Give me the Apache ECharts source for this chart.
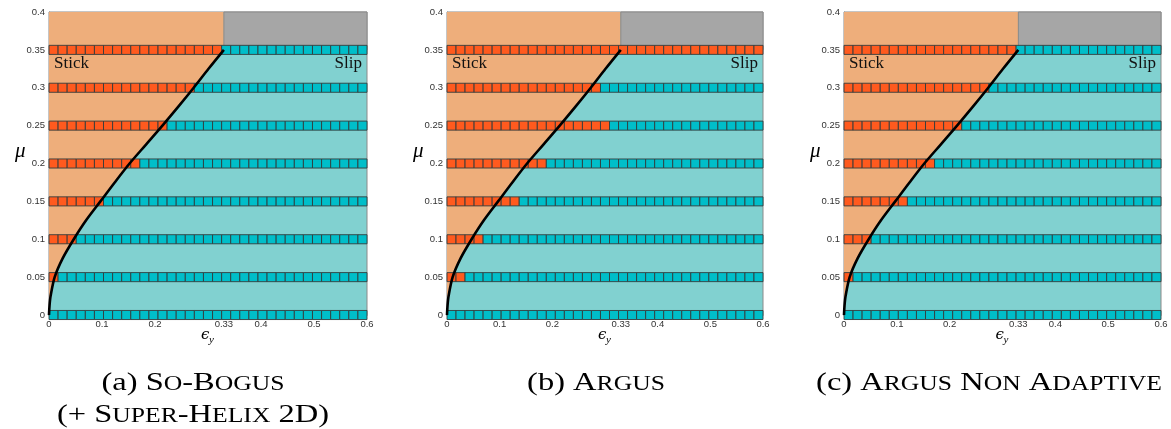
<!DOCTYPE html>
<html><head><meta charset="utf-8">
<script src="https://cdn.jsdelivr.net/npm/echarts@6/dist/echarts.min.js"></script>
<style>html,body{margin:0;padding:0;background:#fff}#c{width:1171px;height:429px}</style>
</head><body><div id="c"></div>
<script>
// ---- data ----
const rowMu = [0, 0.05, 0.1, 0.15, 0.2, 0.25, 0.3, 0.35];
const cellCount = 35;               // squares per row
const epsMax = 0.6;
const muMax = 0.4;
const stickCountA = [0, 1, 3, 6, 10, 13, 16, 19];  // So-Bogus
const stickCountB = [0, 2, 4, 8, 11, 18, 17, 35];  // Argus
const stickCountC = [0, 1, 3, 7, 10, 13, 16, 19];  // Argus non adaptive
const curveEps = [0, 0.001, 0.003, 0.0107, 0.026, 0.0467, 0.07, 0.097, 0.124, 0.152, 0.183, 0.214, 0.244, 0.273, 0.301, 0.33];
const curveMu  = [0, 0.0125, 0.025, 0.05, 0.075, 0.1, 0.125, 0.15, 0.175, 0.2, 0.225, 0.25, 0.275, 0.3, 0.325, 0.35];
const slipLimitEps = 0.33;
const slipLimitMu = 0.35;
const xTickValues = [0, 0.1, 0.2, 0.33, 0.4, 0.5, 0.6];
const xTickLabels = ['0', '0.1', '0.2', '0.33', '0.4', '0.5', '0.6'];
const yInterval = 0.05;

// ---- styling ----
const COL_STICK_BG = '#EEAE7B';
const COL_SLIP_BG = '#81D1D0';
const COL_GRAY = '#A6A6A6';
const COL_STICK = '#FF5A1E';
const COL_SLIP = '#00BEC9';

const grids = [
  {left: 49, top: 12, width: 318, height: 303},
  {left: 447, top: 12, width: 316, height: 303},
  {left: 844, top: 12, width: 317, height: 303}
];
const stickCounts = [stickCountA, stickCountB, stickCountC];

const chart = echarts.init(document.getElementById('c'), null, {renderer: 'canvas'});

const xAxes = [], yAxes = [], series = [];
grids.forEach((g, k) => {
  xAxes.push({
    type: 'value', gridIndex: k, min: 0, max: epsMax,
    axisLine: {show: true, lineStyle: {color: '#8a8a8a', width: 1}},
    axisTick: {show: false},
    splitLine: {show: false},
    axisLabel: {
      customValues: xTickValues,
      formatter: v => { const i = xTickValues.findIndex(t => Math.abs(t - v) < 1e-9); return i >= 0 ? xTickLabels[i] : ''; },
      fontFamily: 'Liberation Sans', fontSize: 9.5, color: '#333', margin: 4
    }
  });
  yAxes.push({
    type: 'value', gridIndex: k, min: 0, max: muMax, interval: yInterval,
    axisLine: {show: true, lineStyle: {color: '#8a8a8a', width: 1}},
    axisTick: {show: false},
    splitLine: {show: false},
    axisLabel: {fontFamily: 'Liberation Sans', fontSize: 9.5, color: '#333', margin: 4,
      formatter: v => String(+v.toFixed(2))}
  });
  // stick region polygon
  series.push({
    type: 'custom', xAxisIndex: k, yAxisIndex: k, z: 1, silent: true, clip: false,
    data: [[0, 0]],
    renderItem: (params, api) => {
      const pts = [];
      for (let i = 0; i < curveEps.length; i++) pts.push(api.coord([curveEps[i], curveMu[i]]));
      pts.push(api.coord([slipLimitEps, muMax]));
      pts.push(api.coord([0, muMax]));
      return {type: 'polygon', shape: {points: pts}, style: {fill: COL_STICK_BG, stroke: null}};
    }
  });
  // gray region
  series.push({
    type: 'custom', xAxisIndex: k, yAxisIndex: k, z: 2, silent: true, clip: false,
    data: [[slipLimitEps, slipLimitMu]],
    renderItem: (params, api) => {
      const p0 = api.coord([slipLimitEps, muMax]);
      const p1 = api.coord([epsMax, slipLimitMu]);
      return {type: 'rect', shape: {x: p0[0], y: p0[1], width: p1[0] - p0[0], height: p1[1] - p0[1]},
        style: {fill: COL_GRAY, stroke: '#8a8a8a', lineWidth: 1}};
    }
  });
  // cells
  const cells = [];
  rowMu.forEach((mu, r) => {
    for (let i = 0; i < cellCount; i++) cells.push([i, mu, i < stickCounts[k][r] ? 1 : 0]);
  });
  series.push({
    type: 'custom', xAxisIndex: k, yAxisIndex: k, z: 3, silent: true, clip: false,
    data: cells,
    renderItem: (params, api) => {
      const i = api.value(0), mu = api.value(1), st = api.value(2);
      const w = epsMax / cellCount;
      const a = api.coord([i * w, mu]);
      const b = api.coord([(i + 1) * w, mu]);
      const s = b[0] - a[0];
      return {type: 'rect', shape: {x: a[0], y: a[1] - s / 2, width: s, height: s},
        style: {fill: st ? COL_STICK : COL_SLIP, stroke: '#333d3d', lineWidth: 0.9}};
    }
  });
  // boundary curve
  series.push({
    type: 'line', xAxisIndex: k, yAxisIndex: k, z: 4, silent: true,
    data: curveEps.map((e, i) => [e, curveMu[i]]),
    smooth: 0.3, symbol: 'none',
    lineStyle: {color: '#000', width: 2.6}
  });
});

const graphic = [];
grids.forEach((g, k) => {
  graphic.push({type: 'text', z: 100, x: g.left + 5, y: 64, style: {text: 'Stick', fontFamily: 'Liberation Serif', fontSize: 17, fill: '#111', verticalAlign: 'middle'}});
  graphic.push({type: 'text', z: 100, x: g.left + g.width - 5, y: 64, style: {text: 'Slip', fontFamily: 'Liberation Serif', fontSize: 17, fill: '#111', align: 'right', verticalAlign: 'middle'}});
  const cx = g.left + g.width / 2;
  graphic.push({type: 'text', z: 100, x: cx - 7, y: 335, style: {text: '\u03f5', fontFamily: 'DejaVu Serif', fontStyle: 'italic', fontSize: 15, fill: '#000', verticalAlign: 'middle'}});
  graphic.push({type: 'text', z: 100, x: cx + 1, y: 340, style: {text: 'y', fontFamily: 'Liberation Serif', fontStyle: 'italic', fontSize: 11, fill: '#000', verticalAlign: 'middle'}});
  graphic.push({type: 'text', z: 100, x: g.left - 34, y: 151, style: {text: '\u03bc', fontFamily: 'Liberation Serif', fontStyle: 'italic', fontSize: 21, fill: '#000', verticalAlign: 'middle'}});
});

const rich = {
  n: {fontFamily: 'Liberation Serif', fontSize: 26, fontWeight: 'normal', fill: '#000', verticalAlign: 'bottom', lineHeight: 30},
  s: {fontFamily: 'Liberation Serif', fontSize: 20.5, fontWeight: 'normal', fill: '#000', verticalAlign: 'bottom', lineHeight: 30, padding: [0, 0, 1, 0]}
};
const captions = [
  {text: '{n|(a) S}{s|O}{n|-B}{s|OGUS}', x: 193, y: 381},
  {text: '{n|(+ S}{s|UPER}{n|-H}{s|ELIX}{n| 2D)}', x: 193, y: 413},
  {text: '{n|(b) A}{s|RGUS}', x: 596, y: 381},
  {text: '{n|(c) A}{s|RGUS}{n| N}{s|ON}{n| A}{s|DAPTIVE}', x: 989, y: 381}
];
captions.forEach(c => graphic.push({
  type: 'text', z: 100, x: c.x, y: c.y, scaleX: 1.25,
  style: {text: c.text, rich, align: 'center', verticalAlign: 'middle', fill: '#000', fontFamily: 'Liberation Serif', fontSize: 26}
}));

chart.setOption({
  animation: false,
  backgroundColor: '#fff',
  grid: grids.map(g => Object.assign({show: true, backgroundColor: COL_SLIP_BG, borderColor: '#8a8a8a', borderWidth: 1}, g)),
  xAxis: xAxes,
  yAxis: yAxes,
  series,
  graphic
});
</script>
</body></html>
